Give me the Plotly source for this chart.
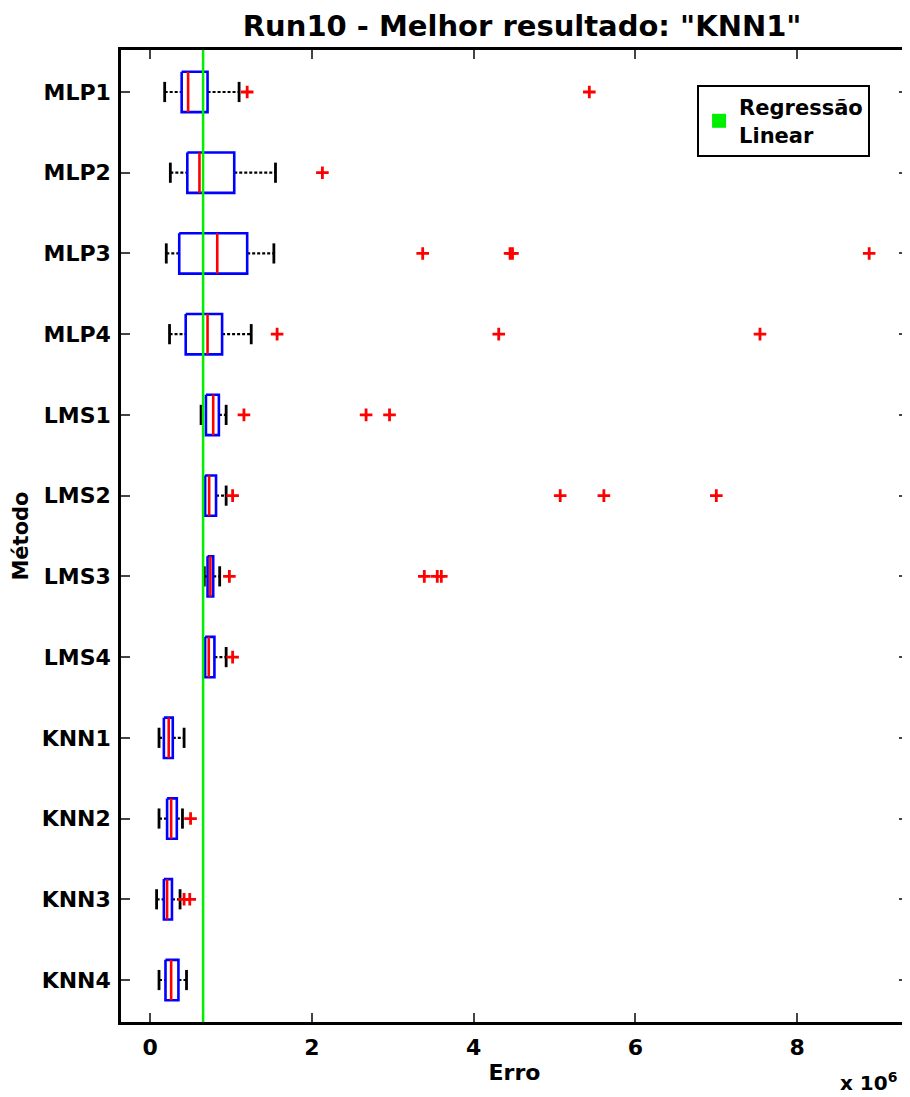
import plotly.graph_objects as go

# values in units of 10^6
methods = ["MLP1", "MLP2", "MLP3", "MLP4", "LMS1", "LMS2", "LMS3", "LMS4",
           "KNN1", "KNN2", "KNN3", "KNN4"]
whisker_lo = [0.18, 0.25, 0.20, 0.24, 0.63, 0.66, 0.67, 0.67, 0.11, 0.11, 0.08, 0.11]
q1 = [0.39, 0.46, 0.36, 0.44, 0.69, 0.68, 0.71, 0.68, 0.17, 0.21, 0.17, 0.19]
median = [0.47, 0.61, 0.83, 0.71, 0.78, 0.73, 0.745, 0.725, 0.23, 0.26, 0.21, 0.26]
q3 = [0.71, 1.04, 1.20, 0.89, 0.85, 0.815, 0.78, 0.795, 0.28, 0.33, 0.27, 0.35]
whisker_hi = [1.10, 1.55, 1.53, 1.25, 0.94, 0.94, 0.86, 0.94, 0.42, 0.40, 0.37, 0.45]
outliers = [
    [1.20, 5.43],
    [2.13],
    [3.37, 4.45, 4.48, 8.89],
    [1.57, 4.31, 7.54],
    [1.16, 2.67, 2.96],
    [1.02, 5.07, 5.61, 7.00],
    [0.98, 3.39, 3.55, 3.60],
    [1.02],
    [],
    [0.50],
    [0.42, 0.49],
    [],
]
linear_regression = 0.655
title_text = 'Run10 - Melhor resultado: "KNN1"'
x_ticks = [0, 2, 4, 6, 8]

BOX_H = 0.25
CAP_H = 0.125

fig = go.Figure()

box_x, box_y, med_x, med_y = [], [], [], []
wh_x, wh_y, cap_x, cap_y = [], [], [], []
out_x, out_y = [], []
for i, m in enumerate(methods):
    box_x += [q1[i], q3[i], q3[i], q1[i], q1[i], None]
    box_y += [i - BOX_H, i - BOX_H, i + BOX_H, i + BOX_H, i - BOX_H, None]
    med_x += [median[i], median[i], None]
    med_y += [i - BOX_H, i + BOX_H, None]
    wh_x += [whisker_lo[i], q1[i], None, q3[i], whisker_hi[i], None]
    wh_y += [i, i, None, i, i, None]
    cap_x += [whisker_lo[i], whisker_lo[i], None, whisker_hi[i], whisker_hi[i], None]
    cap_y += [i - CAP_H, i + CAP_H, None, i - CAP_H, i + CAP_H, None]
    for o in outliers[i]:
        out_x.append(o)
        out_y.append(i)

fig.add_trace(go.Scatter(x=wh_x, y=wh_y, mode="lines", showlegend=False,
                         line=dict(color="black", width=2.2, dash="3px,2px"), hoverinfo="skip"))
fig.add_trace(go.Scatter(x=cap_x, y=cap_y, mode="lines", showlegend=False,
                         line=dict(color="black", width=2.8), hoverinfo="skip"))
fig.add_trace(go.Scatter(x=box_x, y=box_y, mode="lines", showlegend=False,
                         line=dict(color="#0000ff", width=2.6), hoverinfo="skip"))
fig.add_trace(go.Scatter(x=med_x, y=med_y, mode="lines", showlegend=False,
                         line=dict(color="#ff0000", width=2.6), hoverinfo="skip"))
fig.add_trace(go.Scatter(x=out_x, y=out_y, mode="markers", showlegend=False,
                         marker=dict(symbol="cross-thin", size=9, color="#ff0000",
                                     line=dict(color="#ff0000", width=2.8))))

# linear regression reference line
fig.add_trace(go.Scatter(x=[linear_regression, linear_regression], y=[-0.52, 11.52],
                         mode="lines", showlegend=False,
                         line=dict(color="#00ee00", width=2.5), hoverinfo="skip"))
fig.add_trace(go.Scatter(x=[None], y=[None], mode="markers", name="<b>Regressão<br>Linear</b>",
                         marker=dict(symbol="square", size=14, color="#00ee00")))

font_family = "DejaVu Sans"
fig.update_layout(
    width=902, height=1089,
    margin=dict(l=113, r=2, t=42, b=75, autoexpand=False),
    paper_bgcolor="white", plot_bgcolor="white",
    title=dict(text="<b>" + title_text + "</b>", x=0.570, xanchor="center",
               y=0.984, yanchor="middle",
               font=dict(family=font_family, size=29, color="black")),
    font=dict(family=font_family, color="black"),
    legend=dict(x=0.732, y=0.964, xanchor="left", yanchor="top",
                bgcolor="white", bordercolor="black", borderwidth=2,
                font=dict(family=font_family, size=21, color="black"),
                itemwidth=30),
    showlegend=True,
)
fig.update_xaxes(range=[-0.36, 9.37], tickvals=x_ticks,
                 ticktext=["<b>%d</b>" % t for t in x_ticks],
                 tickfont=dict(size=22), ticks="inside", ticklen=9, tickwidth=2,
                 ticklabelstandoff=4, automargin=False,
                 showline=True, linecolor="black", linewidth=2.5, mirror="ticks",
                 showgrid=False, zeroline=False,
                 title=dict(text="<b>Erro</b>", font=dict(size=22), standoff=6))
fig.update_yaxes(range=[11.52, -0.52], tickvals=list(range(len(methods))),
                 ticktext=["<b>%s</b>" % m for m in methods],
                 tickfont=dict(size=22), ticks="inside", ticklen=9, tickwidth=2,
                 ticklabelstandoff=3, automargin=False,
                 showline=True, linecolor="black", linewidth=2.5, mirror="ticks",
                 showgrid=False, zeroline=False,
                 title=dict(text="<b>Método</b>", font=dict(size=21), standoff=8))
fig.add_annotation(text="<b>x 10<sup>6</sup></b>", xref="paper", yref="paper",
                   x=0.988, y=-0.062, xanchor="right", yanchor="middle", showarrow=False,
                   font=dict(size=20, family=font_family, color="black"))

fig.write_html("out.html")
